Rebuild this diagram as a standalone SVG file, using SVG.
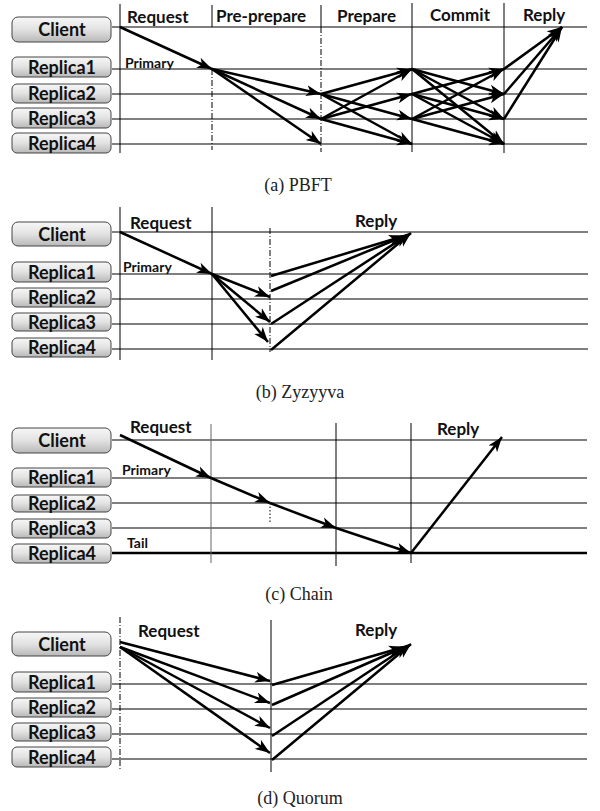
<svg xmlns="http://www.w3.org/2000/svg" width="600" height="811" viewBox="0 0 600 811">
<defs>
<linearGradient id="bg" x1="0" y1="0" x2="0" y2="1">
<stop offset="0" stop-color="#f7f7f7"/>
<stop offset="0.5" stop-color="#e2e2e2"/>
<stop offset="1" stop-color="#b8b8b8"/>
</linearGradient>
<marker id="ah" markerUnits="userSpaceOnUse" markerWidth="16" markerHeight="12" refX="15" refY="6" orient="auto">
<path d="M0,0.5 L15,6 L0,11.5 L4,6 z" fill="#000"/>
</marker>
<style>
.box{fill:url(#bg);stroke:#444;stroke-width:1}
.bl{font-family:Lato,"Liberation Sans",sans-serif;font-weight:bold;font-size:18px;fill:#111;text-anchor:middle}
.ph{font-family:Lato,"Liberation Sans",sans-serif;font-weight:bold;font-size:17px;fill:#111}
.sm{font-family:Lato,"Liberation Sans",sans-serif;font-weight:bold;font-size:14px;fill:#111}
.cap{font-family:"Liberation Serif",serif;font-size:18px;fill:#222;text-anchor:middle}
.hl{stroke:#000;stroke-width:1.2;fill:none}
.vl{stroke:#000;stroke-width:1;fill:none}
.dl{stroke:#000;stroke-width:1;fill:none;stroke-dasharray:6,2,1,2}
.dt{stroke:#000;stroke-width:1;fill:none;stroke-dasharray:1.5,2}
.ar{stroke:#000;stroke-width:2.5;fill:none;marker-end:url(#ah)}
.ln{stroke:#000;stroke-width:2.5;fill:none}
</style>
</defs>

<!-- ===== Panel (a) PBFT ===== -->
<g id="a-lines">
<path class="hl" d="M112,27H587M112,69H587M112,94H587M112,119H587M112,144H587"/>
<path class="vl" d="M120,4V153M212,5V27M321,5V27M412,3V152M504,3V153"/>
<path class="dl" d="M212,69V150M321,27V152"/>
</g>
<g id="a-client"><rect class="box" x="12" y="17" width="99" height="25" rx="6"/><text class="bl" x="62" y="36">Client</text></g>
<g id="a-replica1"><rect class="box" x="12" y="57" width="99" height="20" rx="5"/><text class="bl" x="62" y="73.5">Replica1</text></g>
<g id="a-replica2"><rect class="box" x="12" y="84" width="99" height="19" rx="5"/><text class="bl" x="62" y="100">Replica2</text></g>
<g id="a-replica3"><rect class="box" x="12" y="108" width="99" height="20" rx="5"/><text class="bl" x="62" y="124.5">Replica3</text></g>
<g id="a-replica4"><rect class="box" x="12" y="133" width="99" height="20" rx="5"/><text class="bl" x="62" y="149.5">Replica4</text></g>
<g id="a-labels">
<text class="ph" x="127" y="23">Request</text>
<text class="ph" x="216" y="22">Pre-prepare</text>
<text class="ph" x="337" y="22">Prepare</text>
<text class="ph" x="430" y="21">Commit</text>
<text class="ph" x="523" y="21">Reply</text>
<text class="sm" x="125" y="68">Primary</text>
<text class="cap" x="298" y="191">(a)  PBFT</text>
</g>
<g id="a-connectors">
<path class="ar" d="M120,27L212,69"/>
<path class="ar" d="M212,69L321,94"/>
<path class="ar" d="M212,69L321,119"/>
<path class="ar" d="M212,69L321,144"/>
<path class="ar" d="M321,94L412,69"/>
<path class="ar" d="M321,94L412,119"/>
<path class="ar" d="M321,94L412,144"/>
<path class="ar" d="M321,119L412,69"/>
<path class="ar" d="M321,119L412,94"/>
<path class="ar" d="M321,119L412,144"/>
<path class="ar" d="M412,69L504,94"/>
<path class="ar" d="M412,69L504,119"/>
<path class="ar" d="M412,69L504,144"/>
<path class="ar" d="M412,94L504,69"/>
<path class="ar" d="M412,94L504,119"/>
<path class="ar" d="M412,94L504,144"/>
<path class="ar" d="M412,119L504,69"/>
<path class="ar" d="M412,119L504,94"/>
<path class="ar" d="M412,119L504,144"/>
<path class="ar" d="M504,69L562,27"/>
<path class="ar" d="M504,94L562,27"/>
<path class="ar" d="M504,119L562,27"/>
</g>

<!-- ===== Panel (b) Zyzyyva ===== -->
<g id="b-lines">
<path class="hl" d="M112,232H588M112,274H588M112,299H588M112,324H588M112,349H588"/>
<path class="vl" d="M120,207V360M212,207V360"/>
<path class="dl" d="M270,228V352"/>
</g>
<g id="b-client"><rect class="box" x="12" y="222" width="99" height="24" rx="6"/><text class="bl" x="62" y="240.5">Client</text></g>
<g id="b-replica1"><rect class="box" x="12" y="262" width="99" height="20" rx="5"/><text class="bl" x="62" y="278.5">Replica1</text></g>
<g id="b-replica2"><rect class="box" x="12" y="288" width="99" height="19" rx="5"/><text class="bl" x="62" y="304">Replica2</text></g>
<g id="b-replica3"><rect class="box" x="12" y="313" width="99" height="18" rx="5"/><text class="bl" x="62" y="328.5">Replica3</text></g>
<g id="b-replica4"><rect class="box" x="12" y="338" width="99" height="19" rx="5"/><text class="bl" x="62" y="354">Replica4</text></g>
<g id="b-labels">
<text class="ph" x="130" y="229">Request</text>
<text class="ph" x="355" y="227">Reply</text>
<text class="sm" x="123" y="272">Primary</text>
<text class="cap" x="300" y="398">(b)  Zyzyyva</text>
</g>
<g id="b-connectors">
<path class="ar" d="M120,232L212,274"/>
<path class="ar" d="M212,274L270,297"/>
<path class="ar" d="M212,274L270,322"/>
<path class="ar" d="M212,274L268,342"/>
<path class="ar" d="M271,276L404,236"/>
<path class="ar" d="M271,291L407,235"/>
<path class="ar" d="M271,324L409,234"/>
<path class="ar" d="M271,350L411,233"/>
</g>

<!-- ===== Panel (c) Chain ===== -->
<g id="c-lines">
<path class="hl" d="M112,440H587M112,478H587M112,503H587M112,528H587"/>
<path class="ln" d="M112,553H587"/>
<path style="stroke:#666;stroke-width:1;fill:none" d="M211,424V563"/>
<path class="vl" d="M336,423V566M411,423V563"/>
<path class="dt" d="M270,503V522"/>
</g>
<g id="c-client"><rect class="box" x="12" y="428" width="99" height="25" rx="6"/><text class="bl" x="62" y="447">Client</text></g>
<g id="c-replica1"><rect class="box" x="12" y="468" width="99" height="19" rx="5"/><text class="bl" x="62" y="484">Replica1</text></g>
<g id="c-replica2"><rect class="box" x="12" y="495" width="99" height="17" rx="5"/><text class="bl" x="62" y="510">Replica2</text></g>
<g id="c-replica3"><rect class="box" x="12" y="519" width="99" height="19" rx="5"/><text class="bl" x="62" y="535">Replica3</text></g>
<g id="c-replica4"><rect class="box" x="12" y="544" width="99" height="19" rx="5"/><text class="bl" x="62" y="560">Replica4</text></g>
<g id="c-labels">
<text class="ph" x="130" y="433">Request</text>
<text class="sm" x="122" y="475">Primary</text>
<text class="sm" x="127" y="548">Tail</text>
<text class="ph" x="437" y="435">Reply</text>
<text class="cap" x="299" y="600">(c)  Chain</text>
</g>
<g id="c-connectors">
<path class="ar" d="M120,435L211,478"/>
<path class="ar" d="M211,478L270,503"/>
<path class="ar" d="M270,503L336,528"/>
<path class="ar" d="M336,528L411,553"/>
<path class="ar" d="M411,553L502,437"/>
</g>

<!-- ===== Panel (d) Quorum ===== -->
<g id="d-lines">
<path class="hl" d="M112,684H587M112,709H587M112,734H587M112,759H587"/>
<path class="dl" d="M120,617V770"/>
<path class="vl" d="M271,620V772"/>
</g>
<g id="d-client"><rect class="box" x="12" y="632" width="99" height="24" rx="6"/><text class="bl" x="62" y="650.5">Client</text></g>
<g id="d-replica1"><rect class="box" x="12" y="672" width="99" height="20" rx="5"/><text class="bl" x="62" y="688.5">Replica1</text></g>
<g id="d-replica2"><rect class="box" x="12" y="698" width="99" height="19" rx="5"/><text class="bl" x="62" y="714">Replica2</text></g>
<g id="d-replica3"><rect class="box" x="12" y="723" width="99" height="18" rx="5"/><text class="bl" x="62" y="738.5">Replica3</text></g>
<g id="d-replica4"><rect class="box" x="12" y="747" width="99" height="20" rx="5"/><text class="bl" x="62" y="763.5">Replica4</text></g>
<g id="d-labels">
<text class="ph" x="138" y="637">Request</text>
<text class="ph" x="355" y="636">Reply</text>
<text class="cap" x="300" y="804">(d)  Quorum</text>
</g>
<g id="d-connectors">
<path class="ar" d="M120,642L270,681"/>
<path class="ar" d="M120,647L270,703"/>
<path class="ar" d="M120,647L270,728"/>
<path class="ar" d="M120,647L270,753"/>
<path class="ar" d="M272,685L404,647"/>
<path class="ar" d="M272,705L407,646"/>
<path class="ar" d="M272,736L409,645"/>
<path class="ar" d="M272,760L411,644"/>
</g>
</svg>
